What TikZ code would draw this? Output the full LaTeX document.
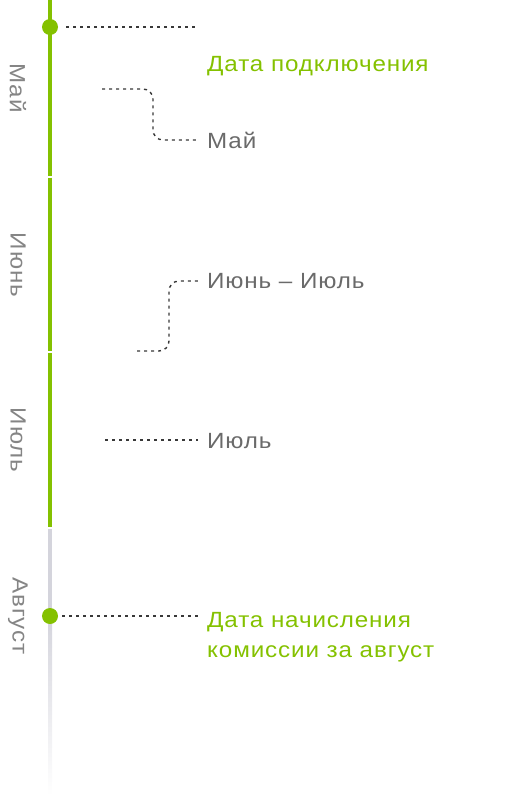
\documentclass[tikz,border=0pt]{standalone}
\usepackage{fontspec}
\setmainfont{Liberation Sans}[FakeStretch=1.1, LetterSpace=4]
\begin{document}
\definecolor{grn}{HTML}{84C100}
\definecolor{txtgray}{HTML}{6A6A6A}
\definecolor{vgray}{HTML}{858585}
\definecolor{dotgray}{HTML}{383838}
\definecolor{linegray}{HTML}{D4D4DC}
\begin{tikzpicture}[x=1pt,y=-1pt,
  seg/.style={grn, line width=4pt},
  conn/.style={dotgray, line width=1.4pt, dash pattern=on 3pt off 4pt},
  dotnode/.style={circle, fill=grn, inner sep=0pt, minimum size=16pt},
  lbl/.style={anchor=base west, inner sep=0pt, font=\fontsize{22}{30}\selectfont, text=txtgray},
  glbl/.style={lbl, text=grn, align=left},
  month/.style={rotate=-90, inner sep=0pt, font=\fontsize{22}{25}\selectfont, text=vgray}]
\useasboundingbox (0,0) rectangle (520,800);
% timeline
\draw[seg] (50,0) -- (50,175.5);
\draw[seg] (50,177.5) -- (50,351);
\draw[seg] (50,353) -- (50,527);
\fill[linegray] (48,529) rectangle (52,616);
\shade[top color=linegray, bottom color=white] (48,616) rectangle (52,796);
% dots
\node[dotnode] (d1) at (50,27) {};
\node[dotnode] (d2) at (50,616) {};
% month labels
\node[month] (mmay) at (18,88) {Май};
\node[month] (mjun) at (18,265) {Июнь};
\node[month] (mjul) at (18,440) {Июль};
\node[month] (maug) at (18,616) {Август};
% texts
\node[glbl] (tstart) at (207,71) {Дата подключения};
\node[lbl] (tmay) at (207,148) {Май};
\node[lbl] (tjj) at (207,288) {Июнь – Июль};
\node[lbl] (tjul) at (207,448) {Июль};
\node[glbl] (tend) at (207,657) {Дата начисления\\комиссии за август};
% connector coordinates
\coordinate (c1) at (198,27);
\coordinate (m1) at (102,89);
\coordinate (m2) at (153,140);
\coordinate (m3) at (198,140);
\coordinate (j1) at (137,351);
\coordinate (j2) at (169,281);
\coordinate (j3) at (198,281);
\coordinate (l1) at (105,440);
\coordinate (l2) at (198,440);
\coordinate (c2) at (198,616);
% connectors
\draw[conn] ([xshift=8pt]d1.east) -- (c1);
\draw[conn, rounded corners=10pt] (m1) -| (m2) -- (m3);
\draw[conn, rounded corners=10pt] (j1) -| (j2) -- (j3);
\draw[conn] (l1) -- (l2);
\draw[conn] ([xshift=4pt]d2.east) -- (c2);
\end{tikzpicture}
\end{document}
